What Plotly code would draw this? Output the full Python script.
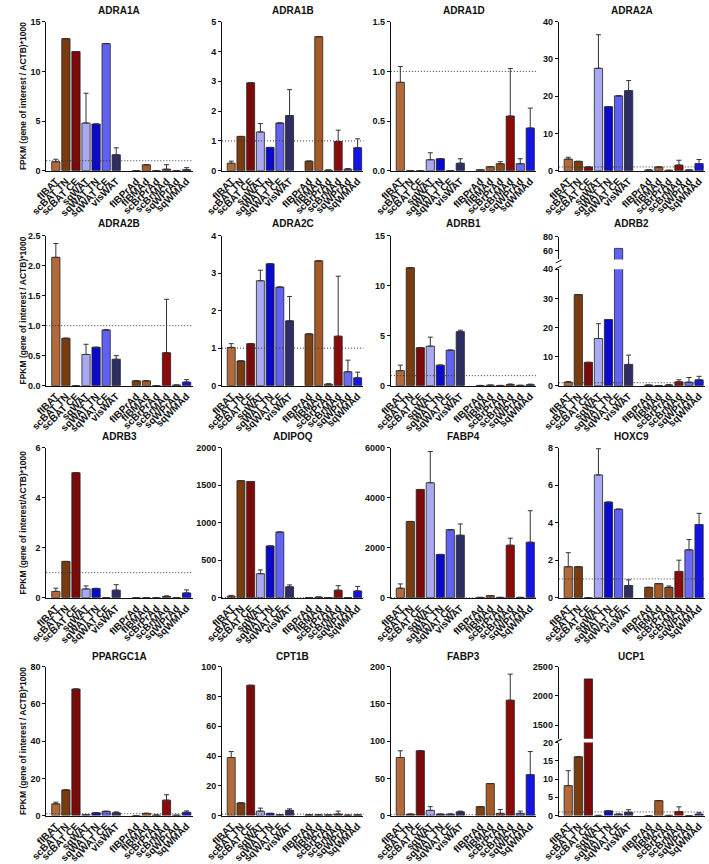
import plotly.graph_objects as go

W, H = 709, 864

categories = ["fIBAT", "scBAT TN", "scBAT CE", "sqWAT", "sqWAT TN", "sqWAT CE", "visWAT",
              "fIBPrAd", "fIBMAd", "scBrPrAd", "scBrMAd", "sqWPrAd", "sqWMAd"]
positions = [0, 1, 2, 3, 4, 5, 6, 8, 9, 10, 11, 12, 13]
bar_colors = ["#B36A3A", "#7A3C0E", "#7D0A0A", "#A9A9F2", "#0A0ACC", "#6262F2", "#2E2E66",
              "#7F4012", "#A65A26", "#8A4A1E", "#8B0A0A", "#6A6AF2", "#1414E6"]

N = None
ADRA1A_mean = [0.9, 13.3, 12.0, 4.8, 4.7, 12.8, 1.6, 0, 0.6, 0, 0.15, 0, 0.1]
ADRA1A_err = [0.25, N, N, 3.0, N, N, 0.7, N, N, N, 0.45, N, 0.2]
ADRA1B_mean = [0.25, 1.15, 2.95, 1.3, 0.78, 1.6, 1.85, 0.32, 4.5, 0.02, 0.98, 0.05, 0.77]
ADRA1B_err = [0.07, N, N, 0.28, N, N, 0.87, N, N, N, 0.38, 0.02, 0.3]
ADRA1D_mean = [0.89, 0, 0, 0.11, 0.12, 0, 0.075, 0.01, 0.04, 0.07, 0.55, 0.07, 0.43]
ADRA1D_err = [0.16, N, N, 0.07, N, N, 0.045, N, N, 0.02, 0.48, 0.05, 0.2]
ADRA2A_mean = [3.1, 2.5, 1.0, 27.5, 17.2, 20.1, 21.5, 0.2, 1.0, 0.1, 1.5, 0.2, 1.9]
ADRA2A_err = [0.5, N, N, 9.0, N, N, 2.7, N, N, N, 1.3, N, 1.1]
ADRA2B_mean = [2.14, 0.79, 0, 0.52, 0.64, 0.93, 0.44, 0.08, 0.08, 0, 0.55, 0.01, 0.06]
ADRA2B_err = [0.23, N, N, 0.17, N, N, 0.06, N, N, N, 0.89, N, 0.04]
ADRA2C_mean = [1.02, 0.66, 1.12, 2.8, 3.25, 2.63, 1.73, 1.38, 3.33, 0.04, 1.32, 0.37, 0.21]
ADRA2C_err = [0.1, N, N, 0.28, N, N, 0.65, N, N, 0.01, 1.6, 0.31, 0.15]
ADRB1_mean = [1.5, 11.8, 3.8, 3.95, 2.05, 3.55, 5.4, 0.02, 0.05, 0.02, 0.12, 0.03, 0.1]
ADRB1_err = [0.55, N, N, 0.9, N, N, 0.15, N, N, N, 0.04, N, 0.05]
ADRB2_mean = [1.2, 31.3, 8.0, 16.2, 22.7, 63.0, 7.3, 0.2, 0.05, 0.2, 1.3, 1.2, 2.0]
ADRB2_err = [0.2, N, N, 5.1, N, N, 3.2, N, N, 0.2, 0.7, 1.6, 1.2]
ADRB3_mean = [0.25, 1.45, 5.0, 0.35, 0.37, 0, 0.3, 0, 0, 0, 0.05, 0, 0.19]
ADRB3_err = [0.13, N, N, 0.12, N, N, 0.22, N, N, N, 0.02, N, 0.12]
ADIPOQ_mean = [20, 1560, 1550, 320, 690, 875, 145, 2, 8, 2, 100, 2, 90]
ADIPOQ_err = [10, N, N, 50, N, N, 25, N, N, N, 60, N, 60]
FABP4_mean = [380, 3050, 4330, 4600, 1730, 2720, 2500, 10, 80, 10, 2100, 10, 2220]
FABP4_err = [170, N, N, 1250, N, N, 450, N, N, N, 280, N, 1260]
HOXC9_mean = [1.65, 1.65, 0, 6.55, 5.1, 4.72, 0.65, 0.55, 0.75, 0.55, 1.4, 2.55, 3.9]
HOXC9_err = [0.75, N, N, 1.4, N, N, 0.3, N, N, 0.07, 0.6, 0.55, 0.6]
PPARGC1A_mean = [6.3, 13.8, 68, 0.5, 1.5, 2.3, 1.5, 0, 1.2, 0.3, 8.3, 0.2, 1.8]
PPARGC1A_err = [0.9, N, N, N, N, N, 0.5, N, N, N, 2.9, N, 0.7]
CPT1B_mean = [39, 8.5, 87.5, 3, 1.5, 0.5, 3.5, 0.5, 0.5, 0.5, 1, 0.3, 0.5]
CPT1B_err = [4, N, N, 2, N, N, 1, N, N, N, 2, N, N]
FABP3_mean = [78, 2, 87, 7, 2, 2, 5, 12, 43, 3, 155, 3, 55]
FABP3_err = [9, N, N, 5, N, N, 1, N, N, 5, 35, 3, 31]
UCP1_mean = [8.2, 16.1, 2290, 0.05, 1.3, 0.4, 0.9, 0, 4.1, 0.05, 1.1, 0, 0.4]
UCP1_err = [4.1, N, N, N, N, N, 0.7, N, N, N, 1.3, N, 0.4]

# title, mean, err, tickvals, ymax, tickformat, broken(upper range, upper ticks)
panels = [
    ("ADRA1A", ADRA1A_mean, ADRA1A_err, [0, 5, 10, 15], 15, "", None),
    ("ADRA1B", ADRA1B_mean, ADRA1B_err, [0, 1, 2, 3, 4, 5], 5, "", None),
    ("ADRA1D", ADRA1D_mean, ADRA1D_err, [0, 0.5, 1.0, 1.5], 1.5, ".1f", None),
    ("ADRA2A", ADRA2A_mean, ADRA2A_err, [0, 10, 20, 30, 40], 40, "", None),
    ("ADRA2B", ADRA2B_mean, ADRA2B_err, [0, 0.5, 1.0, 1.5, 2.0, 2.5], 2.5, ".1f", None),
    ("ADRA2C", ADRA2C_mean, ADRA2C_err, [0, 1, 2, 3, 4], 4, "", None),
    ("ADRB1", ADRB1_mean, ADRB1_err, [0, 5, 10, 15], 15, "", None),
    ("ADRB2", ADRB2_mean, ADRB2_err, [0, 10, 20, 30, 40], 40, "", ([47, 80], [60, 80])),
    ("ADRB3", ADRB3_mean, ADRB3_err, [0, 2, 4, 6], 6, "", None),
    ("ADIPOQ", ADIPOQ_mean, ADIPOQ_err, [0, 500, 1000, 1500, 2000], 2000, "", None),
    ("FABP4", FABP4_mean, FABP4_err, [0, 2000, 4000, 6000], 6000, "", None),
    ("HOXC9", HOXC9_mean, HOXC9_err, [0, 2, 4, 6, 8], 8, "", None),
    ("PPARGC1A", PPARGC1A_mean, PPARGC1A_err, [0, 20, 40, 60, 80], 80, "", None),
    ("CPT1B", CPT1B_mean, CPT1B_err, [0, 20, 40, 60, 80, 100], 100, "", None),
    ("FABP3", FABP3_mean, FABP3_err, [0, 50, 100, 150, 200], 200, "", None),
    ("UCP1", UCP1_mean, UCP1_err, [0, 5, 10, 15, 20], 20, "", ([1267, 2500], [1500, 2000, 2500])),
]

ylabels = ["FPKM (gene of interest / ACTB)*1000", "FPKM (gene of interest / ACTB)*1000",
           "FPKM (gene of interest/ACTB)*1000", "FPKM (gene of interest / ACTB)*1000"]

col_px = [(30, 180), (210, 355), (383, 532), (555, 705)]
row_px = [(17, 168), (234, 386), (449, 601), (671, 822)]
title_px = [6, 222, 438, 661]
upper_px = {7: (235, 258), 15: (671, 744)}
lower_top_px = {7: 268, 15: 748}

FONT = "Liberation Sans, Arial, sans-serif"

def fx(p):
    return p / W

def fy(p):
    return 1 - p / H

fig = go.Figure()
layout = dict(width=W, height=H, margin=dict(l=0, r=0, t=0, b=0), autosize=False,
              plot_bgcolor="white", paper_bgcolor="white", showlegend=False,
              bargap=0.15, font=dict(family=FONT, color="#111"))
annotations = []
shapes = []
extra_y = 17

for i, (title, mean, err, tv, ymax, tf, broken) in enumerate(panels):
    r, c = divmod(i, 4)
    k = i + 1
    xa = "x" if k == 1 else f"x{k}"
    ya = "y" if k == 1 else f"y{k}"
    x0, x1 = col_px[c]
    top, bot = row_px[r]
    if broken:
        top = lower_top_px[i]
    fig.add_trace(go.Bar(
        x=positions, y=mean, xaxis=xa, yaxis=ya, width=0.82,
        marker=dict(color=bar_colors, line=dict(color="#222", width=0.8)),
        error_y=dict(type="data", symmetric=False, array=list(err),
                     arrayminus=[0] * len(err), color="#333", thickness=1, width=2.5),
        hoverinfo="skip"))
    layout[f"xaxis{k}" if k > 1 else "xaxis"] = dict(
        domain=[fx(x0), fx(x1)], anchor=ya, range=[-0.95, 13.6],
        tickvals=positions, ticktext=categories, tickangle=-45,
        tickfont=dict(size=10, family=FONT, weight="bold", color="#111"),
        showline=True, linecolor="#111", linewidth=1, ticks="", showgrid=False, zeroline=False)
    layout[f"yaxis{k}" if k > 1 else "yaxis"] = dict(
        domain=[fy(bot), fy(top)], anchor=xa, range=[0, ymax], tickvals=tv,
        tickformat=tf, tickfont=dict(size=9, family=FONT, weight="bold", color="#111"),
        showline=True, linecolor="#111", linewidth=1, ticks="outside", ticklen=3,
        tickcolor="#111", showgrid=False, zeroline=False)
    # dotted reference line at 1
    shapes.append(dict(type="line", xref=f"{xa} domain", yref=ya, x0=0, x1=1, y0=1, y1=1,
                       line=dict(color="#333", width=1, dash="1px,2px"), layer="above"))
    if broken:
        urange, uticks = broken
        utop, ubot = upper_px[i]
        uy = f"y{extra_y}"
        fig.add_trace(go.Bar(
            x=positions, y=mean, xaxis=xa, yaxis=uy, width=0.82,
            marker=dict(color=bar_colors, line=dict(color="#222", width=0.8)),
            hoverinfo="skip"))
        layout[f"yaxis{extra_y}"] = dict(
            domain=[fy(ubot), fy(utop)], anchor=xa, range=urange, tickvals=uticks,
            tickfont=dict(size=9, family=FONT, weight="bold", color="#111"),
            showline=True, linecolor="#111", linewidth=1, ticks="outside", ticklen=3,
            tickcolor="#111", showgrid=False, zeroline=False)
        extra_y += 1
        # break marks on the y axis
        for yy in (ubot + 2, top - 2):
            shapes.append(dict(type="line", xref="paper", yref="paper",
                               x0=fx(x0 - 3), x1=fx(x0 + 3), y0=fy(yy + 1.5), y1=fy(yy - 1.5),
                               line=dict(color="#111", width=1)))
    annotations.append(dict(text=title, xref="paper", yref="paper",
                            x=fx((x0 + x1) / 2), y=fy(title_px[r]), xanchor="center",
                            yanchor="middle", showarrow=False,
                            font=dict(size=10, family=FONT, weight="bold", color="#111")))

for r in range(4):
    top, bot = row_px[r]
    annotations.append(dict(text=ylabels[r], xref="paper", yref="paper",
                            x=fx(6), y=fy((top + bot) / 2), xanchor="center", yanchor="middle",
                            textangle=-90, showarrow=False,
                            font=dict(size=8.5, family=FONT, weight="bold", color="#111")))

layout["annotations"] = annotations
layout["shapes"] = shapes
fig.update_layout(**layout)
fig.write_html("out.html", config={"displayModeBar": False},
               post_script="document.body.style.margin='0';document.body.style.overflow='hidden';")
